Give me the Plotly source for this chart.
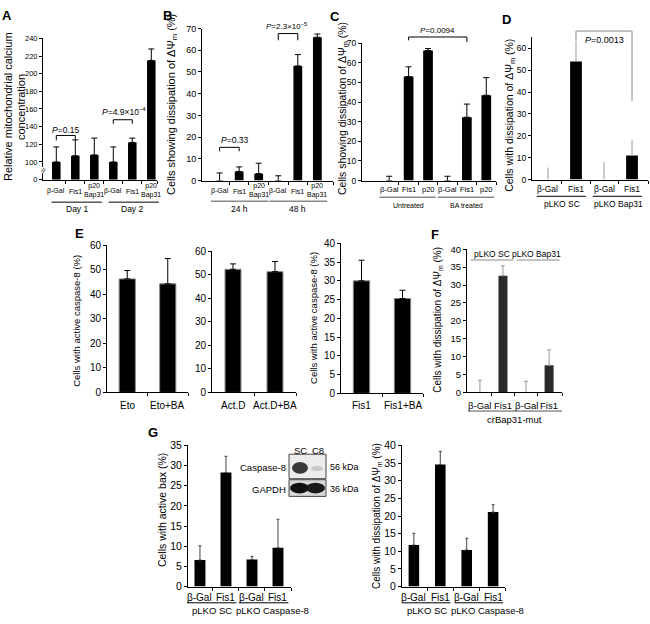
import plotly.graph_objects as go

W, H = 650, 624
SANS = "Liberation Sans, Arial, Helvetica, sans-serif"

# ---------------- data ----------------
a_labels = ["β-Gal", "Fis1", "p20<br>Bap31", "β-Gal", "Fis1", "p20<br>Bap31"]
a_groups = ["Day 1", "Day 2"]
a_values = [100, 107, 108, 100, 122, 215]
a_errors = [17, 18, 19, 17, 5, 13]
a_yticks = [80, 100, 120, 140, 160, 180, 200, 220, 240]
a_yticktext = ["0", "100", "120", "140", "160", "180", "200", "220", "240"]
a_pvalues = ["<i>P</i>=0.15", "<i>P</i>=4.9×10<sup>−4</sup>"]

b_labels = ["β-Gal", "Fis1", "p20<br>Bap31", "β-Gal", "Fis1", "p20<br>Bap31"]
b_groups = ["24 h", "48 h"]
b_values = [0, 4.2, 3.2, 0, 52.8, 66.0]
b_errors = [3.5, 2.1, 4.8, 2.2, 5.2, 1.5]
b_pvalues = ["<i>P</i>=0.33", "<i>P</i>=2.3×10<sup>−5</sup>"]

c_labels = ["β-Gal", "Fis1", "p20", "β-Gal", "Fis1", "p20"]
c_groups = ["Untreated", "BA treated"]
c_values = [0, 53.0, 66.3, 0, 32.3, 43.5]
c_errors = [2.2, 5.0, 1.0, 2.2, 6.7, 9.0]
c_pvalue = "<i>P</i>=0.0094"

d_labels = ["β-Gal", "Fis1", "β-Gal", "Fis1"]
d_groups = ["pLKO SC", "pLKO Bap31"]
d_values = [0, 54.0, 0, 11.0]
d_errors = [5.5, 9.5, 8.0, 7.0]
d_pvalue = "<i>P</i>=0.0013"

e1_labels = ["Eto", "Eto+BA"]
e1_values = [46.3, 44.3]
e1_errors = [3.4, 10.3]
e2_labels = ["Act.D", "Act.D+BA"]
e2_values = [52.3, 51.3]
e2_errors = [2.3, 4.3]
e3_labels = ["Fis1", "Fis1+BA"]
e3_values = [30.0, 25.3]
e3_errors = [5.5, 2.2]

f_labels = ["β-Gal", "Fis1", "β-Gal", "Fis1"]
f_values = [0, 32.6, 0, 7.6]
f_errors = [3.4, 2.8, 3.1, 4.3]
f_top_groups = ["pLKO SC", "pLKO Bap31"]
f_bottom_group = "crBap31-mut"

g_labels = ["β-Gal", "Fis1", "β-Gal", "Fis1"]
g_groups = ["pLKO SC", "pLKO Caspase-8"]
g1_values = [6.6, 28.3, 6.7, 9.6]
g1_errors = [3.5, 4.0, 0.8, 7.1]
g2_values = [11.8, 34.6, 10.4, 21.1]
g2_errors = [3.3, 3.7, 3.3, 2.1]
blot_lanes = ["SC", "C8"]
blot_proteins = ["Caspase-8", "GAPDH"]
blot_sizes = ["56 kDa", "36 kDa"]

ticks_0_70 = list(range(0, 71, 10))
ticks_0_60 = list(range(0, 61, 10))
ticks_0_40 = list(range(0, 41, 5))
ticks_0_35 = list(range(0, 36, 5))

DISS = "Cells showing dissipation of ΔΨ<sub>m</sub> (%)"
DISS2 = "Cells with dissipation of ΔΨ<sub>m</sub> (%)"
CASP = "Cells with active caspase-8 (%)"

# ---------------- geometry (pixels) ----------------
GEOM = {
    'A': dict(n=1, xd=(43, 157), yd=(33, 177), xr=(-0.7, 5.3), yr=(80, 240)),
    'B': dict(n=2, xd=(202, 333), yd=(23, 178), xr=(-0.9, 5.8), yr=(0, 70)),
    'C': dict(n=3, xd=(362, 496), yd=(38, 178), xr=(-1.4, 5.5), yr=(0, 70)),
    'D': dict(n=4, xd=(532, 648), yd=(32, 177), xr=(-0.57, 3.57), yr=(0, 65)),
    'E1': dict(n=5, xd=(107, 188), yd=(244, 394), xr=(-0.5, 1.5), yr=(0, 60)),
    'E2': dict(n=6, xd=(212, 296), yd=(250, 394), xr=(-0.5, 1.5), yr=(0, 60)),
    'E3': dict(n=7, xd=(341, 423), yd=(242, 395), xr=(-0.5, 1.5), yr=(0, 40)),
    'F': dict(n=8, xd=(467, 562), yd=(248, 394), xr=(-0.56, 3.56), yr=(0, 40)),
    'G1': dict(n=9, xd=(188, 291), yd=(448, 592), xr=(-0.46, 3.5), yr=(0, 35)),
    'G2': dict(n=10, xd=(402, 505), yd=(448, 592), xr=(-0.45, 3.45), yr=(0, 40)),
}

fig = go.Figure()
axes_layout = {}
annotations = []
shapes = []


def px2x(px):
    return px / W


def px2y(py):
    return 1 - py / H


def data_x(key, v):
    g = GEOM[key]
    (a, b), (r0, r1) = g['xd'], g['xr']
    return px2x(a + (v - r0) / (r1 - r0) * (b - a))


def data_y(key, v):
    g = GEOM[key]
    (top, bot), (r0, r1) = g['yd'], g['yr']
    return px2y(bot - (v - r0) / (r1 - r0) * (bot - top))


def text(x, y, s, size, family=SANS, color='black', angle=0, xanchor='center',
         yanchor='middle', bgcolor=None):
    d = dict(x=x, y=y, xref='paper', yref='paper', text=s, showarrow=False,
             font=dict(size=size, family=family, color=color), textangle=angle,
             xanchor=xanchor, yanchor=yanchor, borderpad=0)
    if bgcolor:
        d['bgcolor'] = bgcolor
    annotations.append(d)


def line(x0, y0, x1, y1, color='black', width=1):
    shapes.append(dict(type='line', xref='paper', yref='paper', x0=x0, y0=y0,
                       x1=x1, y1=y1, line=dict(color=color, width=width)))


def bracket(key, x0, x1, ytop, yl0, yl1, color='black', width=1):
    X0, X1 = data_x(key, x0), data_x(key, x1)
    T, L0, L1 = data_y(key, ytop), data_y(key, yl0), data_y(key, yl1)
    shapes.append(dict(type='path', xref='paper', yref='paper',
                       path=f"M{X0},{L0} L{X0},{T} L{X1},{T} L{X1},{L1}",
                       line=dict(color=color, width=width)))


def add_panel(key, values, errors, yvals, ytext, bar_width, tick_size,
              bar_color='black', outline=None, err_color='black', err_thick=1,
              err_cap=3, family=SANS):
    g = GEOM[key]
    n = g['n']
    xn = 'x' if n == 1 else f'x{n}'
    yn = 'y' if n == 1 else f'y{n}'
    cats = list(range(len(values)))
    fig.add_trace(go.Bar(
        x=cats, y=values, xaxis=xn, yaxis=yn, width=bar_width,
        marker=dict(color=bar_color,
                    line=dict(color=outline or 'rgba(0,0,0,0)', width=1 if outline else 0)),
        error_y=dict(type='data', array=errors, arrayminus=[0] * len(errors),
                     symmetric=False, color=err_color, thickness=err_thick, width=err_cap),
        hoverinfo='skip'))
    common = dict(showline=True, linecolor='black', linewidth=1, showgrid=False,
                  zeroline=False, ticks='outside', tickcolor='black', ticklen=3,
                  tickwidth=1, fixedrange=True)
    xt = [i + 0.5 for i in range(len(values) - 1)] + [g['xr'][1]]
    axes_layout['xaxis' if n == 1 else f'xaxis{n}'] = dict(
        domain=[px2x(g['xd'][0]), px2x(g['xd'][1])], range=list(g['xr']),
        anchor=yn, tickvals=xt, showticklabels=False, **common)
    axes_layout['yaxis' if n == 1 else f'yaxis{n}'] = dict(
        domain=[px2y(g['yd'][1]), px2y(g['yd'][0])], range=list(g['yr']),
        anchor=xn, tickvals=yvals, ticktext=ytext,
        tickfont=dict(size=tick_size, family=family, color='black'), **common)


def cat_labels(key, labels, ypx, size, family=SANS, ypx2=None):
    for i, lab in enumerate(labels):
        y = ypx2 if (ypx2 is not None and '<br>' in lab) else ypx
        text(data_x(key, i), px2y(y), lab, size, family=family)


def group_lines(key, groups, per, ypx_line, ypx_text, pad_l, pad_r, size,
                color='black', width=1, text_dx=(0.0, 0.0)):
    for gi, name in enumerate(groups):
        s, e = gi * per, gi * per + per - 1
        line(data_x(key, s + pad_l), px2y(ypx_line), data_x(key, e + pad_r),
             px2y(ypx_line), color=color, width=width)
        text(data_x(key, (s + e) / 2 + text_dx[gi]), px2y(ypx_text), name, size)


# ---------------- Panel A ----------------
add_panel('A', a_values, a_errors, a_yticks, a_yticktext, 0.45, 7.5, err_cap=3)
cat_labels('A', a_labels, 189, 7, ypx2=188)
group_lines('A', a_groups, 3, 200, 206.5, -0.25, 0.4, 8.5, text_dx=(0.1, 0.0))
bracket('A', 0, 1, 130, 124.5, 124.5)
bracket('A', 3, 4, 147.8, 143.3, 143.3)
text(data_x('A', 0.5), data_y('A', 136.7), a_pvalues[0], 8.5)
text(data_x('A', 3.55), data_y('A', 156.7), a_pvalues[1], 8.5)
text(px2x(43), px2y(168), "≈", 9, angle=-70, bgcolor='white')
text(px2x(8), px2y(103), "Relative mitochondrial calcium", 11, angle=-90)
text(px2x(21), px2y(103), "concentration", 11, angle=-90)

# ---------------- Panel B ----------------
add_panel('B', b_values, b_errors, ticks_0_70, [str(v) for v in ticks_0_70], 0.45, 9, err_cap=3)
cat_labels('B', b_labels, 189, 7, ypx2=188)
group_lines('B', b_groups, 3, 199, 207, -0.45, 0.5, 8.5, color='#8a8a8a', width=1.5)
bracket('B', 0, 1, 15.3, 13.5, 13.5)
bracket('B', 3, 4, 67.7, 64.6, 64.6)
text(data_x('B', 0.74), data_y('B', 18.5), b_pvalues[0], 8.5)
text(data_x('B', 3.4), data_y('B', 71.2), b_pvalues[1], 8)
text(px2x(172), px2y(101), DISS, 11, angle=-90)

# ---------------- Panel C ----------------
add_panel('C', c_values, c_errors, ticks_0_70, [str(v) for v in ticks_0_70], 0.5, 8.5, err_cap=3)
cat_labels('C', c_labels, 187, 7.5)
group_lines('C', c_groups, 3, 195, 203, -0.5, 0.4, 7, color='#8a8a8a', width=1.5)
bracket('C', 1, 4, 73.2, 71.5, 70.7)
text(data_x('C', 2.5), data_y('C', 76.5), c_pvalue, 8)
text(px2x(343), px2y(105), DISS, 10.5, angle=-90)

# ---------------- Panel D ----------------
add_panel('D', d_values, d_errors, ticks_0_60, [str(v) for v in ticks_0_60], 0.42, 8.5,
          err_color='#9a9a9a', err_cap=0)
cat_labels('D', d_labels, 187, 8.5)
group_lines('D', d_groups, 2, 194, 202, -0.4, 0.35, 8.5)
bracket('D', 1, 3, 67.9, 63.8, 35.9, color='#8a8a8a')
text(data_x('D', 2.0), data_y('D', 63.8), d_pvalue, 9)
text(px2x(510), px2y(112), DISS2, 10.5, angle=-90)

# ---------------- Panel E ----------------
add_panel('E1', e1_values, e1_errors, ticks_0_60, [str(v) for v in ticks_0_60], 0.4, 10,
          outline='#8a8a8a', err_cap=3)
add_panel('E2', e2_values, e2_errors, ticks_0_60, [str(v) for v in ticks_0_60], 0.38, 10,
          outline='#8a8a8a', err_cap=3)
add_panel('E3', e3_values, e3_errors, ticks_0_40, [str(v) for v in ticks_0_40], 0.4, 10,
          outline='#8a8a8a', err_cap=3)
cat_labels('E1', e1_labels, 407, 10)
cat_labels('E2', e2_labels, 407, 10)
cat_labels('E3', e3_labels, 407, 10)
text(px2x(77), px2y(321), CASP, 9.5, angle=-90)
text(px2x(314), px2y(318), CASP, 9.5, angle=-90)

# ---------------- Panel F ----------------
add_panel('F', f_values, f_errors, ticks_0_40, [str(v) for v in ticks_0_40], 0.39, 9.5,
          bar_color='#2a2a2a', err_color='#9a9a9a', err_cap=2)
cat_labels('F', f_labels, 407, 9.5)
line(data_x('F', -0.52), px2y(413), data_x('F', 3.56), px2y(413), color='#555')
text(data_x('F', 1.5), px2y(421.5), f_bottom_group, 9.5)
group_lines('F', f_top_groups, 2, 259, 253, -0.4, 0.45, 8.5, color='#8a8a8a', width=1,
            text_dx=(0.02, -0.03))
text(px2x(438), px2y(320), DISS2, 10, angle=-90)

# ---------------- Panel G ----------------
add_panel('G1', g1_values, g1_errors, ticks_0_35, [str(v) for v in ticks_0_35], 0.42, 10.5,
          err_color='#444', err_cap=1.5)
add_panel('G2', g2_values, g2_errors, ticks_0_40, [str(v) for v in ticks_0_40], 0.4, 10.5,
          err_color='#444', err_cap=1.5)
cat_labels('G1', g_labels, 603, 10)
cat_labels('G2', g_labels, 603, 10)
group_lines('G1', g_groups, 2, 608.5, 616.5, -0.5, 0.4, 9.5, text_dx=(-0.05, 0.28))
group_lines('G2', g_groups, 2, 608.5, 616.5, -0.45, 0.38, 9.5, text_dx=(0.0, 0.3))
text(px2x(162), px2y(514), "Cells with active bax (%)", 10.5, angle=-90)
text(px2x(377), px2y(520), DISS2, 10, angle=-90)


# western blot inset
def rect(x0, y0, x1, y1, fill, lc='#444', lw=1, kind='rect'):
    shapes.append(dict(type=kind, xref='paper', yref='paper', x0=px2x(x0), x1=px2x(x1),
                       y0=px2y(y0), y1=px2y(y1), fillcolor=fill,
                       line=dict(color=lc, width=lw)))


rect(289, 457, 326, 482, '#ececec')
rect(289, 483, 326, 500, '#d8d8d8')
rect(292, 465, 308, 477, '#3a3a3a', lc='rgba(0,0,0,0)', lw=0, kind='circle')
rect(311, 469, 323, 474, '#c8c8c8', lc='rgba(0,0,0,0)', lw=0, kind='circle')
rect(290, 486, 309, 497, '#111', lc='rgba(0,0,0,0)', lw=0, kind='circle')
rect(306, 486, 325, 497, '#1c1c1c', lc='rgba(0,0,0,0)', lw=0, kind='circle')
text(px2x(300), px2y(453), blot_lanes[0], 9.5)
text(px2x(318), px2y(453), blot_lanes[1], 9.5)
text(px2x(287), px2y(470.5), blot_proteins[0], 9.5, xanchor='right')
text(px2x(287), px2y(492.5), blot_proteins[1], 9.5, xanchor='right')
text(px2x(329), px2y(470.5), blot_sizes[0], 9, xanchor='left')
text(px2x(329), px2y(492.5), blot_sizes[1], 9, xanchor='left')

# panel letters
for letter, (lx, ly) in zip("ABCDEFG", [(7, 10), (167, 10), (335, 11), (506, 14),
                                         (79, 232), (435, 233), (153, 435)]):
    text(px2x(lx), px2y(ly), f"<b>{letter}</b>", 13)

fig.update_layout(width=W, height=H, margin=dict(l=0, r=0, t=0, b=0),
                  paper_bgcolor='white', plot_bgcolor='white', showlegend=False,
                  annotations=annotations, shapes=shapes, font=dict(family=SANS),
                  **axes_layout)

fig.write_html("out.html", config={'displayModeBar': False},
               post_script="document.body.style.margin='0';document.body.style.overflow='hidden';")
